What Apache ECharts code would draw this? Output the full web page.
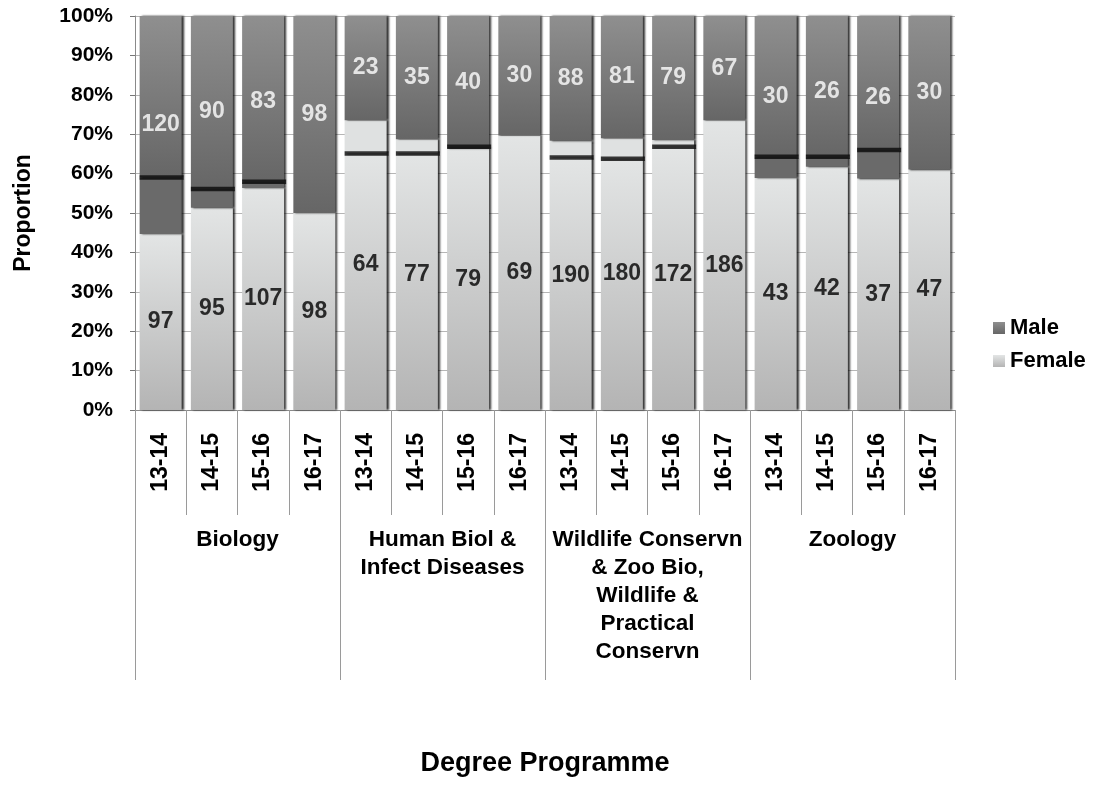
<!DOCTYPE html>
<html><head><meta charset="utf-8">
<script src="https://cdn.jsdelivr.net/npm/echarts@6/dist/echarts.min.js"></script>
<style>html,body{margin:0;padding:0;background:#fff}#c{width:1096px;height:785px}</style>
</head><body><div id="c"></div>
<script>
// ---- data ----
const programmes = ['Biology', 'Human Biol &\nInfect Diseases', 'Wildlife Conservn\n& Zoo Bio,\nWildlife &\nPractical\nConservn', 'Zoology'];
const years = ['13-14', '14-15', '15-16', '16-17'];
const femaleCounts = [97, 95, 107, 98, 64, 77, 79, 69, 190, 180, 172, 186, 43, 42, 37, 47];
const maleCounts = [120, 90, 83, 98, 23, 35, 40, 30, 88, 81, 79, 67, 30, 26, 26, 30];
// black reference line (% female), none for 16-17
const benchmark = [59.0, 56.1, 57.9, null, 65.1, 65.1, 66.8, null, 64.1, 63.8, 66.8, null, 64.3, 64.3, 66.0, null];
const yTickValues = [0, 10, 20, 30, 40, 50, 60, 70, 80, 90, 100];

// ---- derived ----
const cats = [];
programmes.forEach((p, gi) => years.forEach(y => cats.push(gi + '|' + y)));
const femalePct = femaleCounts.map((f, i) => f / (f + maleCounts[i]) * 100);
const femaleLow = femalePct.map((f, i) => benchmark[i] == null ? f : Math.min(f, benchmark[i]));
const maleLow = femalePct.map((f, i) => benchmark[i] == null ? '-' : (benchmark[i] > f ? benchmark[i] - f : '-'));
const femaleHigh = femalePct.map((f, i) => benchmark[i] == null ? '-' : (f > benchmark[i] ? f - benchmark[i] : '-'));
const maleHigh = femalePct.map((f, i) => 100 - Math.max(f, benchmark[i] == null ? 0 : benchmark[i]));
const markerData = benchmark.map((b, i) => [i, b]).filter(d => d[1] != null);
const femaleLabelPos = femalePct.map((f, i) => [i, f / 2]);
const maleLabelPos = femalePct.map((f, i) => [i, (f + 100) / 2]);

const FONT = '"Liberation Sans", Arial, Helvetica, sans-serif';
const femaleGrad = new echarts.graphic.LinearGradient(0, 0, 0, 1, [
  { offset: 0, color: '#e3e5e5' }, { offset: 1, color: '#b4b4b4' }]);
const maleGrad = new echarts.graphic.LinearGradient(0, 0, 0, 1, [
  { offset: 0, color: '#8f8f8f' }, { offset: 1, color: '#666666' }]);
const shadow = { shadowColor: 'rgba(0,0,0,0.8)', shadowBlur: 2, shadowOffsetX: 2, shadowOffsetY: 0 };

const barBase = { type: 'bar', stack: 'p', barWidth: 42, xAxisIndex: 0, yAxisIndex: 0, silent: true };

const chart = echarts.init(document.getElementById('c'), null, { renderer: 'canvas' });
chart.setOption({
  animation: false,
  backgroundColor: '#fff',
  textStyle: { fontFamily: FONT },
  grid: { left: 135, right: 141, top: 16, bottom: 375, containLabel: false, outerBoundsMode: 'none' },
  legend: {
    data: ['Male', 'Female'], orient: 'vertical', left: 988, top: 312,
    itemWidth: 12, itemHeight: 12, itemGap: 11, icon: 'rect',
    textStyle: { fontSize: 22, fontWeight: 'bold', color: '#000', fontFamily: FONT },
    selectedMode: false
  },
  xAxis: [{
    type: 'category', data: cats, position: 'bottom', gridIndex: 0,
    axisLine: { show: true, lineStyle: { color: '#8a8a8a', width: 1 } },
    axisTick: { show: true, interval: 0, length: 105, lineStyle: { color: '#9a9a9a' } },
    axisLabel: {
      interval: 0, rotate: 90, margin: 23, fontSize: 23, fontWeight: 'bold', color: '#000',
      fontFamily: FONT, formatter: v => v.split('|')[1]
    },
    splitLine: { show: false }
  }, {
    type: 'category', data: programmes, position: 'bottom', gridIndex: 0,
    axisLine: { show: false },
    axisTick: { show: true, interval: 0, length: 270, lineStyle: { color: '#9a9a9a' } },
    axisLabel: { interval: 0, margin: 116, fontSize: 22.5, fontWeight: 'bold', color: '#000', lineHeight: 28, fontFamily: FONT },
    name: 'Degree Programme', nameLocation: 'middle', nameGap: 340,
    nameTextStyle: { fontSize: 27, fontWeight: 'bold', color: '#000', fontFamily: FONT }
  }],
  yAxis: {
    type: 'value', min: yTickValues[0], max: yTickValues[yTickValues.length - 1], interval: 10,
    axisLine: { show: true, lineStyle: { color: '#8a8a8a' } },
    axisTick: { show: true, length: 5, lineStyle: { color: '#777' } },
    axisLabel: { formatter: '{value}%', fontSize: 21, fontWeight: 'bold', color: '#000', margin: 22, fontFamily: FONT },
    splitLine: { show: true, lineStyle: { color: '#b5b5b5', width: 1 } },
    name: 'Proportion', nameLocation: 'middle', nameGap: 100, nameRotate: 90,
    nameTextStyle: { fontSize: 23, fontWeight: 'bold', color: '#000', fontFamily: FONT }
  },
  series: [
    Object.assign({}, barBase, { name: 'Female', data: femaleLow, itemStyle: Object.assign({ color: femaleGrad }, shadow) }),
    Object.assign({}, barBase, { name: 'maleLow', data: maleLow, itemStyle: Object.assign({ color: '#6a6a6a' }, shadow) }),
    Object.assign({}, barBase, { name: 'femaleHigh', data: femaleHigh, itemStyle: Object.assign({ color: '#dfe1e1' }, shadow) }),
    Object.assign({}, barBase, { name: 'Male', data: maleHigh, itemStyle: Object.assign({ color: maleGrad }, shadow) }),
    {
      type: 'scatter', name: 'marker', data: markerData, symbol: 'rect', symbolSize: [44, 4.5],
      symbolOffset: [1, 0], itemStyle: { color: '#0a0a0a' }, z: 5, silent: true
    },
    {
      type: 'scatter', name: 'femaleLabels', data: femaleLabelPos, symbolSize: 0, z: 6, silent: true,
      label: { show: true, position: 'inside', formatter: p => String(femaleCounts[p.dataIndex]),
        fontSize: 23, fontWeight: 'bold', color: '#000', fontFamily: FONT }
    },
    {
      type: 'scatter', name: 'maleLabels', data: maleLabelPos, symbolSize: 0, z: 6, silent: true,
      label: { show: true, position: 'inside', formatter: p => String(maleCounts[p.dataIndex]),
        fontSize: 23, fontWeight: 'bold', color: '#fff', fontFamily: FONT }
    }
  ]
});
</script></body></html>
